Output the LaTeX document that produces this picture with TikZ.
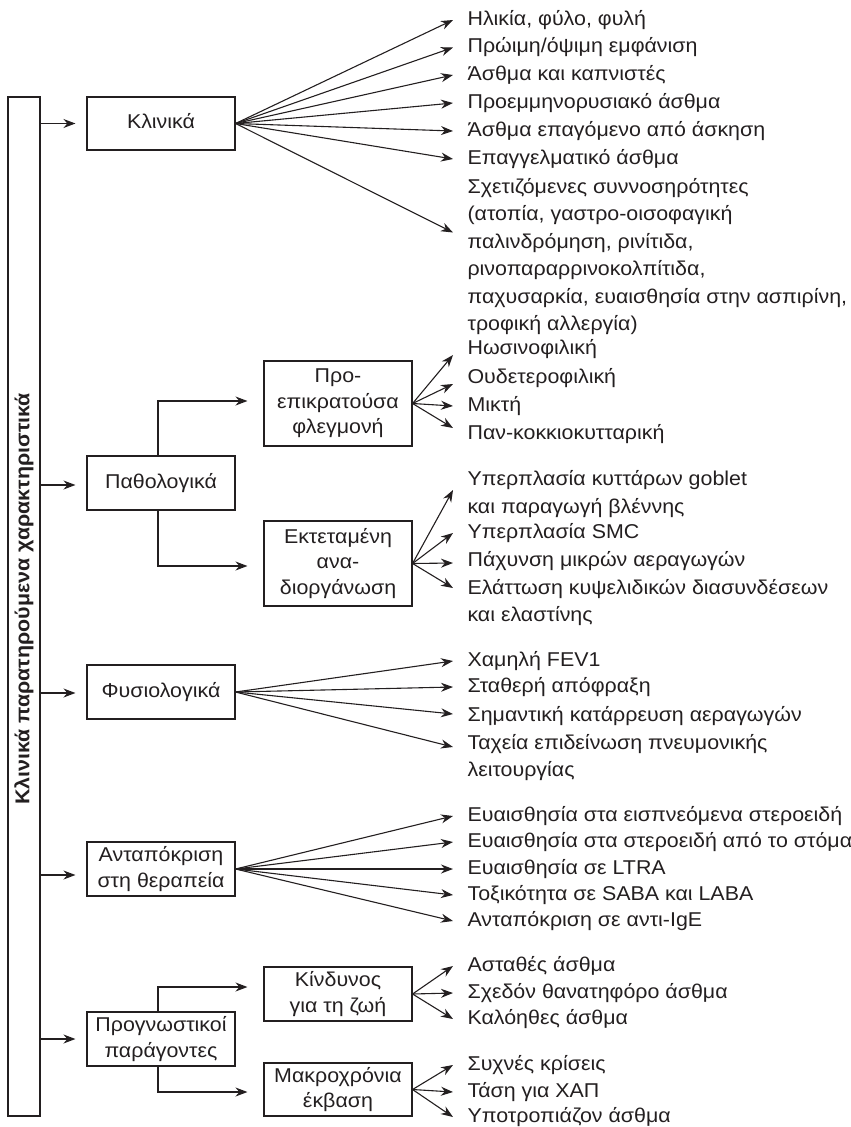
\documentclass[tikz,border=0pt]{standalone}
\usepackage{fontspec}
\setmainfont[FakeStretch=1.07]{Liberation Sans}
\usetikzlibrary{arrows.meta}
\definecolor{ink}{RGB}{35,31,32}
\begin{document}
\begin{tikzpicture}[x=1pt,y=-1pt,
  line width=1.1pt, draw=ink, text=ink,
  box/.style={draw=ink, line width=1.1pt, minimum width=148pt, align=center,
    inner sep=0pt, font=\fontsize{20}{25.5}\selectfont},
  one/.style={text height=11.5pt, text depth=1pt},
  leaf/.style={anchor=west, inner xsep=14pt, inner ysep=0pt, align=left,
    font=\fontsize{20}{27.5}\selectfont},
  arr/.style={draw=ink, line width=1.1pt, -{Stealth[length=12pt,width=9pt]}},
  main/.style={arr, shorten >=11pt},
  branch/.style={arr}
]
\useasboundingbox (0,0) rectangle (851,1127);

% title column
\node[draw=ink, line width=1.1pt, minimum width=32pt, minimum height=1019pt, inner sep=0pt] (T) at (24,606.5) {};
\node[rotate=90, inner sep=0pt, one, font=\bfseries\fontsize{20}{22}\selectfont] (Tt) at (24,599) {Κλινικά παρατηρούμενα χαρακτηριστικά};

% main boxes
\node[box, one, minimum height=53pt] (K) at (161,123.5) {Κλινικά};
\node[box, one, minimum height=54pt] (P) at (161,483) {Παθολογικά};
\node[box, one, minimum height=54pt] (F) at (161,692) {Φυσιολογικά};
\node[box, minimum height=54pt] (A) at (161,869) {Ανταπόκριση\\στη θεραπεία};
\node[box, minimum height=54pt] (G) at (161,1039) {Προγνωστικοί\\παράγοντες};

% sub boxes
\node[box, minimum height=85pt] (S1) at (338,403.5) {Προ-\\επικρατούσα\\φλεγμονή};
\node[box, minimum height=85pt] (S2) at (338,563.5) {Εκτεταμένη\\ανα-\\διοργάνωση};
\node[box, minimum height=54pt] (S3) at (338,994) {Κίνδυνος\\για τη ζωή};
\node[box, minimum height=53pt] (S4) at (338,1089.5) {Μακροχρόνια\\έκβαση};

% arrows from title column
\draw[main] (K.west -| T.east) -- (K.west);
\draw[main] ([yshift=-2pt]P.west -| T.east) -- ([yshift=-2pt]P.west);
\draw[main] ([yshift=-1pt]F.west -| T.east) -- ([yshift=-1pt]F.west);
\draw[main] ([yshift=-6pt]A.west -| T.east) -- ([yshift=-6pt]A.west);
\draw[main] (G.west -| T.east) -- (G.west);

% branches
\draw[branch] ([xshift=-3pt]P.north) |- ([xshift=-16pt,yshift=2.5pt]S1.west);
\draw[branch] ([xshift=-3pt]P.south) |- ([xshift=-16pt,yshift=-2.5pt]S2.west);
\draw[branch] ([xshift=-3pt]G.north) |- ([xshift=-16pt,yshift=7pt]S3.west);
\draw[branch] ([xshift=-3pt]G.south) |- ([xshift=-16pt,yshift=-2.5pt]S4.west);

% Κλινικά leaves
\node[leaf, one] (k1) at (453,20) {Ηλικία, φύλο, φυλή};
\node[leaf, one] (k2) at (453,47.5) {Πρώιμη/όψιμη εμφάνιση};
\node[leaf, one] (k3) at (453,75) {Άσθμα και καπνιστές};
\node[leaf, one] (k4) at (453,103) {Προεμμηνορυσιακό άσθμα};
\node[leaf, one] (k5) at (453,131) {Άσθμα επαγόμενο από άσκηση};
\node[leaf, one] (k6) at (453,159) {Επαγγελματικό άσθμα};
\node[leaf] (k7) at (453,256.5) {Σχετιζόμενες συννοσηρότητες\\(ατοπία, γαστρο-οισοφαγική\\παλινδρόμηση, ρινίτιδα,\\ρινοπαραρρινοκολπίτιδα,\\παχυσαρκία, ευαισθησία στην ασπιρίνη,\\τροφική αλλεργία)};
\foreach \n in {k1,k2,k3,k4,k5,k6} \draw[arr] (K.east) -- (\n.west);
\draw[arr] (K.east) -- ([yshift=24pt]k7.west);

% Προ-επικρατούσα leaves
\node[leaf, one] (a1) at (453,349) {Ηωσινοφιλική};
\node[leaf, one] (a2) at (453,378) {Ουδετεροφιλική};
\node[leaf, one] (a3) at (453,406) {Μικτή};
\node[leaf, one] (a4) at (453,434) {Παν-κοκκιοκυτταρική};
\draw[arr] (S1.east) -- ([yshift=-6pt]a1.west);
\draw[arr] (S1.east) -- ([yshift=-6pt]a2.west);
\draw[arr] (S1.east) -- (a3.west);
\draw[arr] (S1.east) -- ([yshift=6pt]a4.west);

% Εκτεταμένη leaves
\node[leaf] (b1) at (453,494) {Υπερπλασία κυττάρων goblet\\και παραγωγή βλέννης};
\node[leaf, one] (b2) at (453,533) {Υπερπλασία SMC};
\node[leaf, one] (b3) at (453,561) {Πάχυνση μικρών αεραγωγών};
\node[leaf] (b4) at (453,602.5) {Ελάττωση κυψελιδικών διασυνδέσεων\\και ελαστίνης};
\draw[arr] (S2.east) -- ([yshift=4pt]b1.west);
\draw[arr] (S2.east) -- (b2.west);
\draw[arr] (S2.east) -- ([yshift=-2pt]b3.west);
\draw[arr] (S2.east) -- ([yshift=14.5pt]b4.west);

% Φυσιολογικά leaves
\node[leaf, one] (f1) at (453,661) {Χαμηλή FEV1};
\node[leaf, one] (f2) at (453,687) {Σταθερή απόφραξη};
\node[leaf, one] (f3) at (453,716) {Σημαντική κατάρρευση αεραγωγών};
\node[leaf] (f4) at (453,757.5) {Ταχεία επιδείνωση πνευμονικής\\λειτουργίας};
\draw[arr] (F.east) -- (f1.west);
\draw[arr] (F.east) -- (f2.west);
\draw[arr] (F.east) -- ([yshift=2pt]f3.west);
\draw[arr] (F.east) -- ([yshift=10.5pt]f4.west);

% Ανταπόκριση leaves
\node[leaf, one] (r1) at (453,816) {Ευαισθησία στα εισπνεόμενα στεροειδή};
\node[leaf, one] (r2) at (453,842) {Ευαισθησία στα στεροειδή από το στόμα};
\node[leaf, one] (r3) at (453,869) {Ευαισθησία σε LTRA};
\node[leaf, one] (r4) at (453,895) {Τοξικότητα σε SABA και LABA};
\node[leaf, one] (r5) at (453,921) {Ανταπόκριση σε αντι-IgE};
\foreach \n in {r1,r2,r3,r4,r5} \draw[arr] (A.east) -- (\n.west);

% Κίνδυνος leaves
\node[leaf, one] (c1) at (453,966) {Ασταθές άσθμα};
\node[leaf, one] (c2) at (453,993) {Σχεδόν θανατηφόρο άσθμα};
\node[leaf, one] (c3) at (453,1019) {Καλόηθες άσθμα};
\foreach \n in {c1,c2,c3} \draw[arr] (S3.east) -- (\n.west);

% Μακροχρόνια leaves
\node[leaf, one] (m1) at (453,1065) {Συχνές κρίσεις};
\node[leaf, one] (m2) at (453,1092) {Τάση για ΧΑΠ};
\node[leaf, one] (m3) at (453,1117) {Υποτροπιάζον άσθμα};
\foreach \n in {m1,m2,m3} \draw[arr] (S4.east) -- (\n.west);
\end{tikzpicture}
\end{document}
